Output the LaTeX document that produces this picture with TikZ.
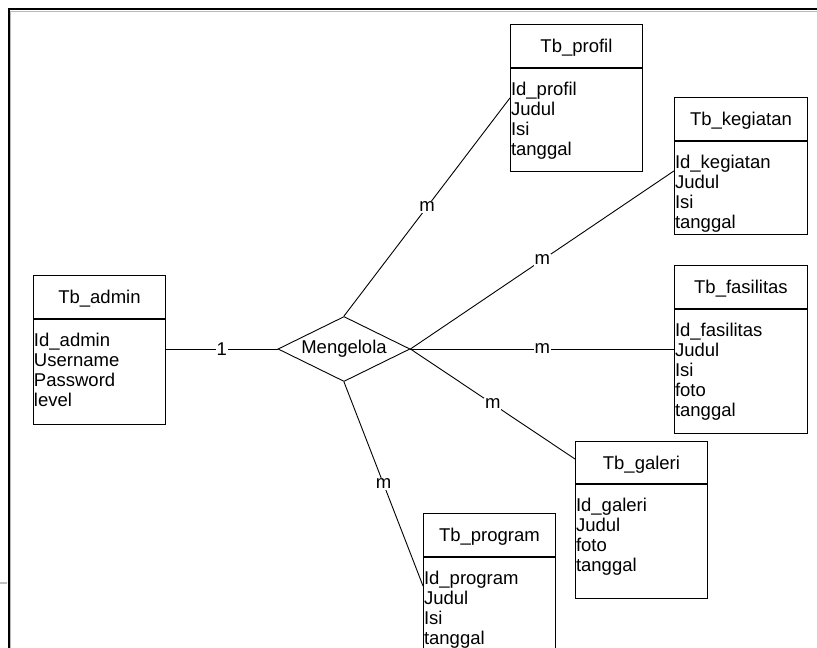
\documentclass[tikz,border=0pt]{standalone}
\usepackage{fontspec}
\setmainfont{Liberation Sans}
\usetikzlibrary{shapes.geometric,calc}
\begin{document}
\begin{tikzpicture}[x=1pt,y=-1pt,
  every node/.style={font=\fontsize{18.5}{20}\selectfont},
  tbtitle/.style={draw, line width=0.9pt, minimum width=132pt, minimum height=43pt,
    anchor=north west, inner sep=0pt, text height=13.3pt, text depth=0pt},
  tbbody/.style={draw, line width=0.9pt, minimum width=132pt, anchor=north west, inner sep=0pt},
  attrs/.style={anchor=north west, align=left, inner xsep=0.8pt, inner ysep=13.5pt},
  relbox/.style={draw, diamond, aspect=2, inner sep=0pt, minimum width=132pt,
    minimum height=65pt, line width=0.9pt},
  conn/.style={line width=0.9pt},
  card/.style={fill=white, inner sep=1pt, pos=0.5}
]
\useasboundingbox (0,0) rectangle (817,648);
\clip (0,0) rectangle (817,648);

% frame
\draw[gray!55, line width=1pt] (10.5,11) -- (817,11);
\draw[gray!55, line width=1pt] (10.5,11) -- (10.5,648);
\draw[line width=2pt] (7.5,9) -- (817,9);
\draw[line width=2pt] (8.5,8) -- (8.5,648);
\draw[gray!50, line width=1.5pt] (0,583) -- (7,583);

% Tb_admin
\node[tbtitle] (admin) at (33,275) {Tb\_admin};
\node[tbbody, minimum height=105pt] (adminb) at (admin.south west) {};
\node[attrs] (admina) at (adminb.north west) {Id\_admin\\Username\\Password\\level};

% Tb_profil
\node[tbtitle] (profil) at (510,24) {Tb\_profil};
\node[tbbody, minimum height=103pt] (profilb) at (profil.south west) {};
\node[attrs] (profila) at (profilb.north west) {Id\_profil\\Judul\\Isi\\tanggal};

% Tb_kegiatan
\node[tbtitle, minimum width=133pt] (kegiatan) at (674,97) {Tb\_kegiatan};
\node[tbbody, minimum width=133pt, minimum height=93pt] (kegiatanb) at (kegiatan.south west) {};
\node[attrs] (kegiatana) at (kegiatanb.north west) {Id\_kegiatan\\Judul\\Isi\\tanggal};

% Tb_fasilitas
\node[tbtitle, minimum width=133pt] (fasilitas) at (674,265) {Tb\_fasilitas};
\node[tbbody, minimum width=133pt, minimum height=124pt] (fasilitasb) at (fasilitas.south west) {};
\node[attrs] (fasilitasa) at (fasilitasb.north west) {Id\_fasilitas\\Judul\\Isi\\foto\\tanggal};

% Tb_galeri
\node[tbtitle, minimum height=42pt] (galeri) at (575,441) {Tb\_galeri};
\node[tbbody, minimum height=114pt] (galerib) at (galeri.south west) {};
\node[attrs] (galeria) at (galerib.north west) {Id\_galeri\\Judul\\foto\\tanggal};

% Tb_program
\node[tbtitle] (program) at (423,513) {Tb\_program};
\node[tbbody, minimum height=110pt] (programb) at (program.south west) {};
\node[attrs] (programa) at (programb.north west) {Id\_program\\Judul\\Isi\\tanggal};

% relationship
\node[relbox] (rel) at (344,349) {Mengelola};

% connectors
\draw[conn] (adminb.west -| adminb.east) ++(0,0) coordinate (aend);
\draw[conn] (rel.west -| adminb.east) -- (rel.west) node[card] (c1) {1};
\draw[conn] (rel.north) -- ($(profilb.north west)+(0,30)$) node[card] (c2) {m};
\draw[conn] (rel.east) -- ($(kegiatanb.north west)+(0,30)$) node[card] (c3) {m};
\draw[conn] (rel.east) -- (rel.east -| fasilitasb.west) node[card] (c4) {m};
\draw[conn] (rel.east) -- ($(galeri.north west)+(0,18)$) node[card] (c5) {m};
\draw[conn] (rel.south) -- ($(programb.north west)+(0,29)$) node[card] (c6) {m};
\end{tikzpicture}
\end{document}
